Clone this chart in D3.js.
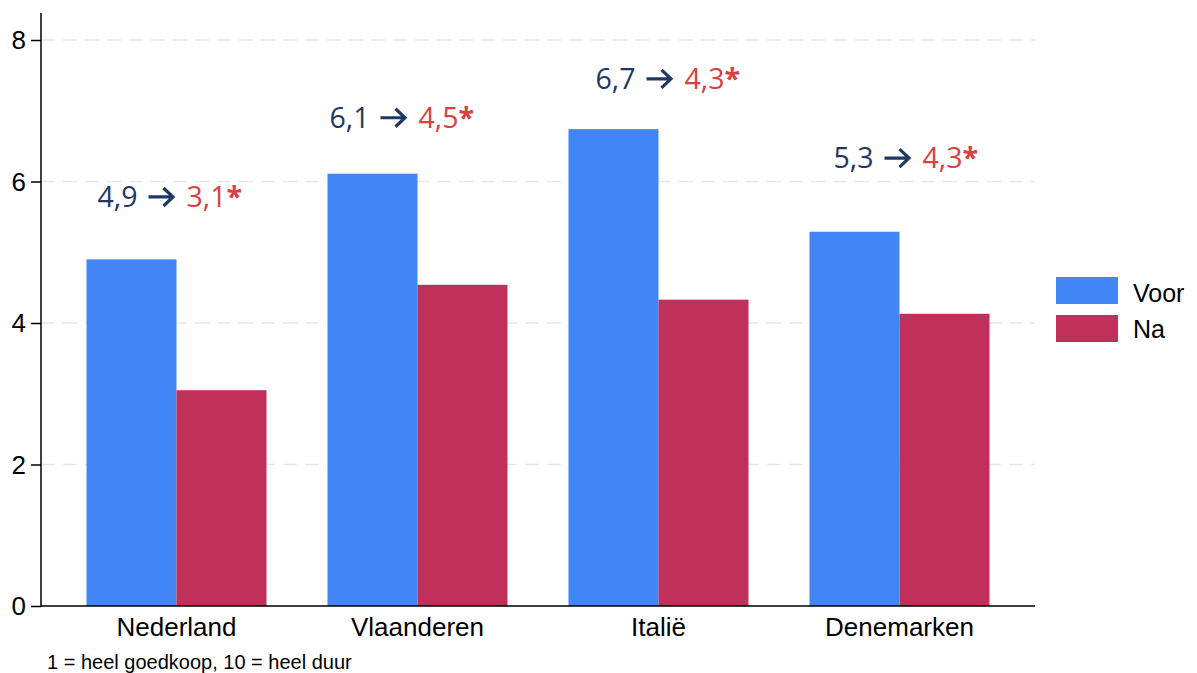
<!DOCTYPE html>
<html><head><meta charset="utf-8">
<script src="https://cdn.jsdelivr.net/npm/d3@7"></script>
<style>body{margin:0;background:#fff}</style>
</head><body>
<svg id="c" width="1197" height="673"></svg>
<script>
const categories = ["Nederland","Vlaanderen","Italië","Denemarken"];
const voor = [4.9, 6.11, 6.74, 5.29];
const na = [3.05, 4.54, 4.33, 4.13];
const seriesNames = ["Voor","Na"];
const labelVoor = ["4,9","6,1","6,7","5,3"];
const labelNa = ["3,1","4,5","4,3","4,3"];
const labelY = [5.64, 6.76, 7.31, 6.19];
const labelShift = [-15, -24, 1, -2];
const yTicks = [0,2,4,6,8];
const note = "1 = heel goedkoop, 10 = heel duur";

const svg = d3.select("#c");
const colors = ["#4286f5","#c0305a"];
const navy = "#1f3864", annRed = "#d9403f";
const mLeft = 41, mRight = 1035, mTop = 13, mBottom = 606;
const y = d3.scaleLinear().domain([0,8]).range([mBottom, 40]);
const x = d3.scaleBand().domain(categories).range([mLeft, mRight]).paddingInner(0.2531).paddingOuter(0.1888);
const xs = d3.scaleBand().domain(seriesNames).range([0, x.bandwidth()]);
const sans = "Liberation Sans, Arial, sans-serif";

// grid
svg.append("g").selectAll("line").data(yTicks.filter(d=>d>0)).join("line")
  .attr("x1", mLeft).attr("x2", mRight).attr("y1", d=>y(d)).attr("y2", d=>y(d))
  .attr("stroke","#e6e6e6").attr("stroke-width",1.5).attr("stroke-dasharray","14,8");

// bars
const data = categories.map((c,i)=>({c, vals:[voor[i], na[i]]}));
const g = svg.append("g").selectAll("g").data(data).join("g")
  .attr("transform", d=>`translate(${x(d.c)},0)`);
g.selectAll("rect").data(d=>d.vals.map((v,j)=>({v, s:seriesNames[j], j}))).join("rect")
  .attr("x", d=>xs(d.s)).attr("width", xs.bandwidth())
  .attr("y", d=>y(d.v)).attr("height", d=>mBottom - y(d.v))
  .attr("fill", d=>colors[d.j]);

// axes
const ya = svg.append("g").attr("transform",`translate(${mLeft},0)`)
  .call(d3.axisLeft(y).tickValues(yTicks).tickSize(10).tickPadding(5).tickSizeOuter(0));
ya.select(".domain").remove();
ya.selectAll("line").attr("stroke","#000").attr("stroke-width",1.5);
ya.selectAll("text").attr("font-family",sans).attr("font-size",26).attr("fill","#000").attr("dy","0.34em");
svg.append("line").attr("x1",mLeft).attr("x2",mLeft).attr("y1",mTop).attr("y2",mBottom+0.75).attr("stroke","#000").attr("stroke-width",1.5);
svg.append("line").attr("x1",mLeft).attr("x2",mRight).attr("y1",mBottom).attr("y2",mBottom).attr("stroke","#000").attr("stroke-width",1.5);

const xa = svg.append("g").attr("transform",`translate(0,${mBottom})`)
  .call(d3.axisBottom(x).tickSize(0).tickPadding(12));
xa.select(".domain").remove();
xa.selectAll("text").attr("font-family",sans).attr("font-size",26).attr("fill","#000");

// note
svg.append("text").attr("x",47).attr("y",669).text(note)
  .attr("font-family",sans).attr("font-size",20).attr("fill","#000");

// annotations
categories.forEach((c,i)=>{
  const cx = x(c) + x.bandwidth()/2 + labelShift[i];
  const by = y(labelY[i]);
  const a = svg.append("g");
  a.append("text").attr("x", cx - 24).attr("y", by).attr("text-anchor","end")
    .attr("font-family","Open Sans, sans-serif").attr("font-size",28.5).attr("fill",navy)
    .text(labelVoor[i]);
  a.append("path")
    .attr("d", `M${cx-13},${by-10}H${cx+11}M${cx+2},${by-19}L${cx+11.5},${by-10}L${cx+2},${by-1}`)
    .attr("fill","none").attr("stroke",navy).attr("stroke-width",3.2);
  const t = a.append("text").attr("x", cx + 25).attr("y", by)
    .attr("font-family","Open Sans, sans-serif").attr("font-size",28.5).attr("fill",annRed);
  t.append("tspan").text(labelNa[i]);
  t.append("tspan").attr("font-weight","bold").text("*");
});

// legend
const lg = svg.append("g");
seriesNames.forEach((s,i)=>{
  lg.append("rect").attr("x",1056).attr("y",277+i*38).attr("width",62).attr("height",27).attr("fill",colors[i]);
  lg.append("text").attr("x",1133).attr("y",302+i*36).text(s)
    .attr("font-family",sans).attr("font-size",25).attr("fill","#000");
});
</script>
</body></html>
